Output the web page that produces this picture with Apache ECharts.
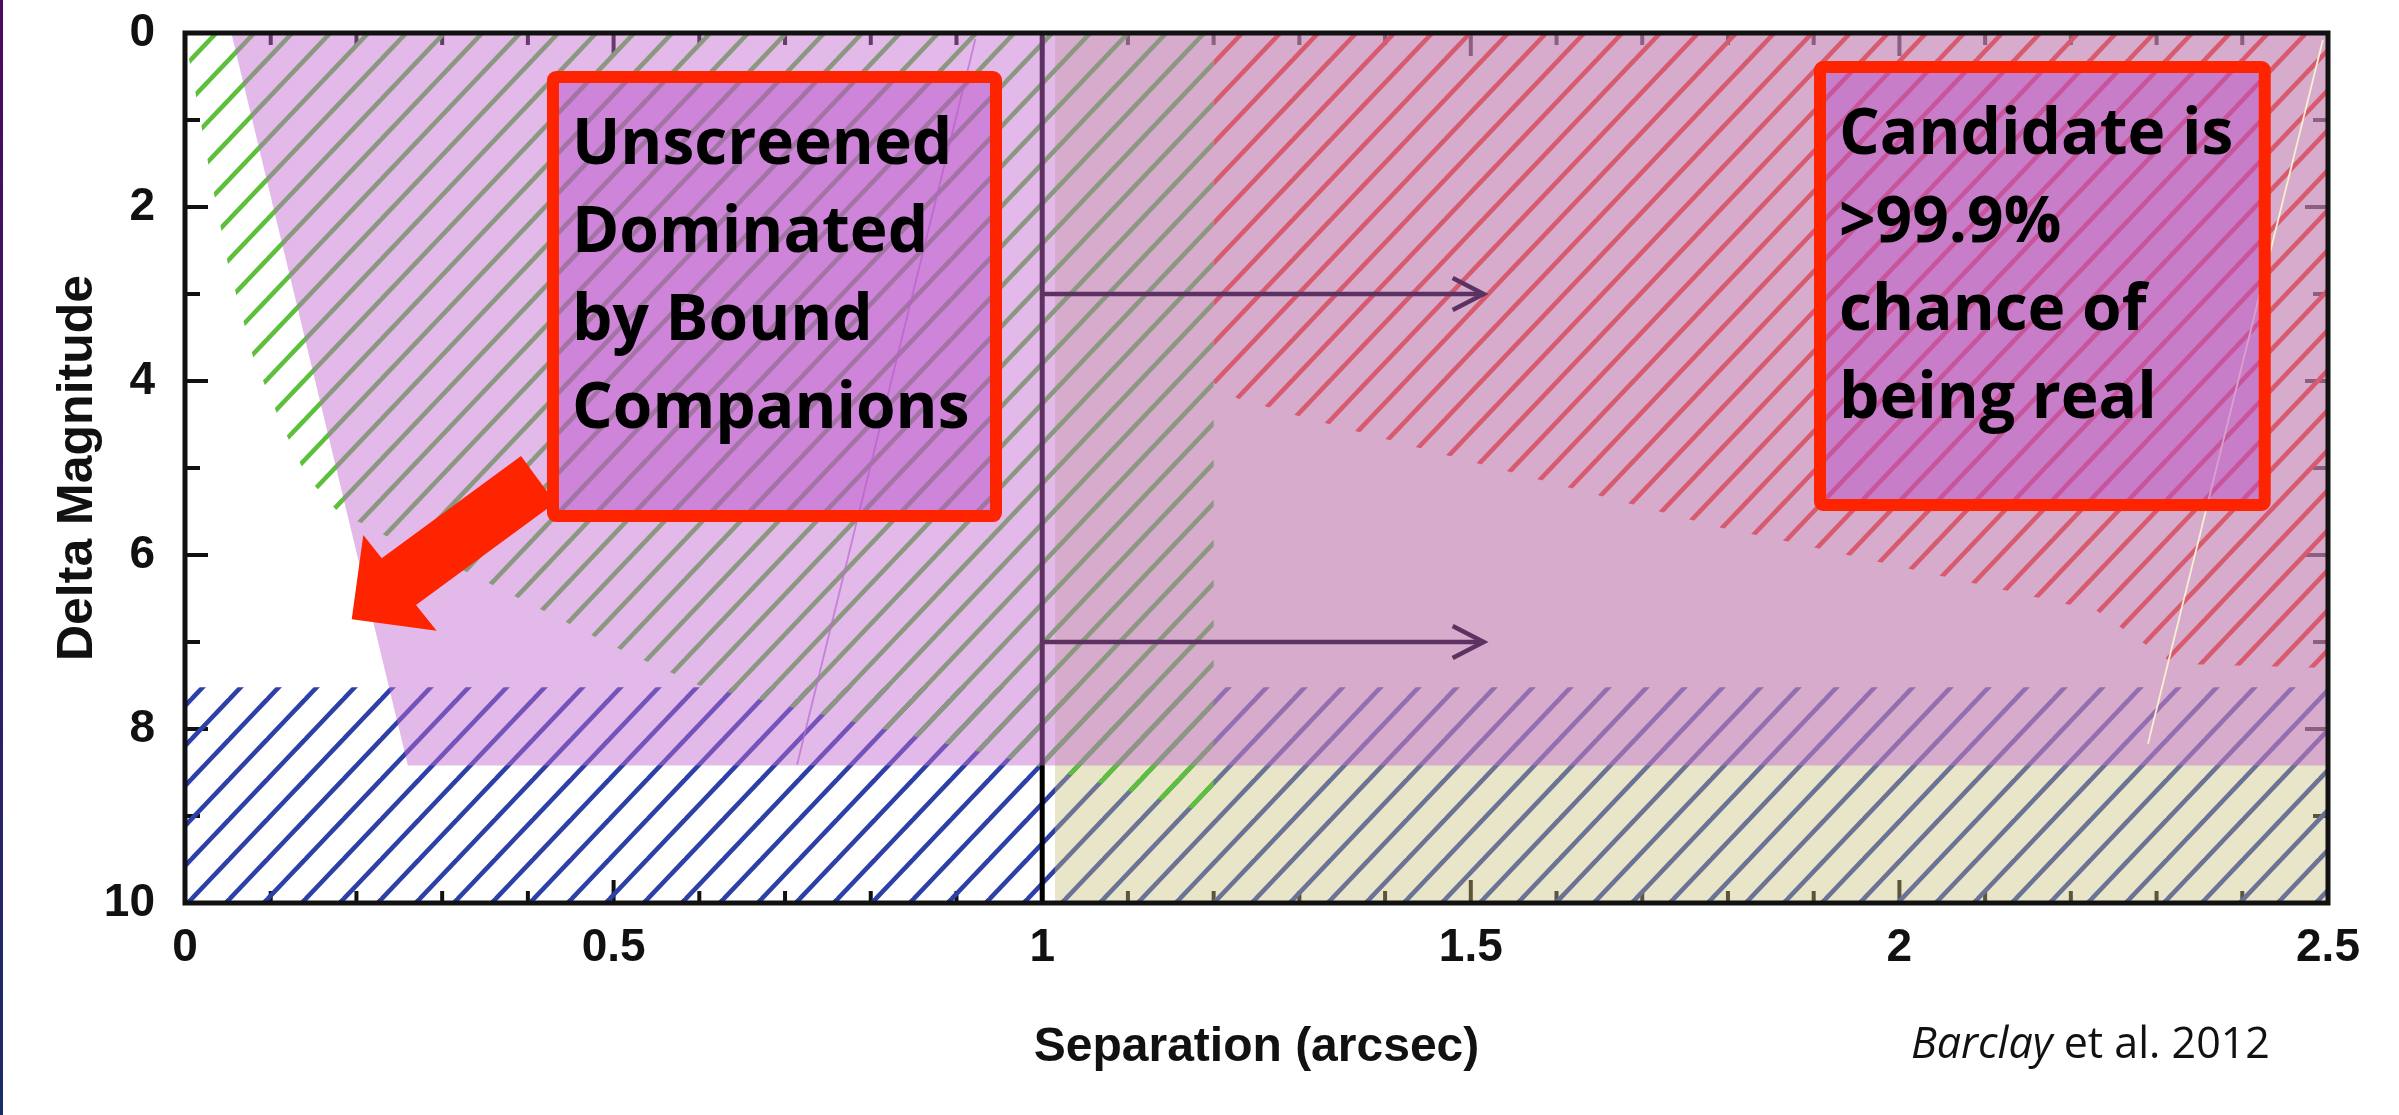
<!DOCTYPE html>
<html>
<head>
<meta charset="utf-8">
<script src="https://cdn.jsdelivr.net/npm/echarts@6.0.0/dist/echarts.min.js"></script>
<style>
  html, body { margin: 0; padding: 0; background: #ffffff; }
  #chart { width: 2399px; height: 1115px; }
</style>
</head>
<body>
<div id="chart"></div>
<script>
// Separation (arcsec) vs. delta magnitude: parameter space ruled out by each test.

// Region excluded by high-resolution imaging (green hatch)
const imagingRegion = [
  [0, 0], [1.2, 0], [1.2, 9.0], [1.17, 8.9], [1.03, 8.52], [0.96, 8.34], [0.6, 7.5],
  [0.5, 7.05], [0.45, 6.8], [0.39, 6.5], [0.33, 6.2], [0.238, 5.8], [0.205, 5.63],
  [0.178, 5.5], [0.142, 5.1], [0.115, 4.55], [0.08, 3.74], [0.05, 2.65], [0.028, 1.55],
  [0.007, 0.4], [0, 0.1]
];
// Region excluded by centroid analysis (red hatch)
const centroidRegion = [
  [1.2, 0], [2.5, 0], [2.5, 7.3], [2.32, 7.25], [2.23, 6.64], [1.867, 5.84], [1.793, 5.69],
  [1.298, 4.4], [1.263, 4.3], [1.228, 4.2], [1.2, 4.02]
];
// Too faint to produce the transit (blue hatch)
const faintRegion = [[0, 7.52], [2.5, 7.52], [2.5, 10], [0, 10]];
// Wide separations (yellow)
const wideRegion = [[1.015, 0], [2.5, 0], [2.5, 10], [1.015, 10]];
// Unscreened space (pink)
const unscreenedRegion = [[0.054, 0], [2.5, 0], [2.5, 8.42], [0.26, 8.42]];

const separationLimit = [[1, 0], [1, 10]];
const arrowRows = [3, 7];
const arrowEnd = 1.515;

const seamLines = [
  [0.922, 0.07, 0.714, 8.41],
  [2.494, 0.08, 2.29, 8.17]
];
const seamColors = ['rgba(186,110,214,0.75)', '#f6f0cf'];

const noteBoxes = [
  [0.4223, 0.4368, 0.9531, 5.621],
  [1.9004, 0.322, 2.4332, 5.494]
];
const noteTexts = [
  'Unscreened\nDominated\nby Bound\nCompanions',
  'Candidate is\n>99.9%\nchance of\nbeing real'
];
const pointerArrow = [
  [0.1945, 6.739], [0.208, 5.770], [0.2295, 6.038], [0.392, 4.862],
  [0.432, 5.399], [0.2695, 6.575], [0.2936, 6.870]
];

const xTicks = { min: 0, max: 2.5, interval: 0.5 };
const yTicks = { min: 0, max: 10, interval: 2 };
const xMajorTicks = [0, 0.5, 1, 1.5, 2, 2.5];
const xMinorTicks = [0.1, 0.2, 0.3, 0.4, 0.6, 0.7, 0.8, 0.9, 1.1, 1.2, 1.3, 1.4,
                     1.6, 1.7, 1.8, 1.9, 2.1, 2.2, 2.3, 2.4];
const yMajorTicks = [0, 2, 4, 6, 8, 10];
const yMinorTicks = [1, 3, 5, 7, 9];

// Diagonal hatch tile; anchored at the canvas origin so every region shares one phase
function hatch(color) {
  const w = 38, h = 40, k = 0.95, c = document.createElement('canvas');
  c.width = w; c.height = h;
  const g = c.getContext('2d');
  g.strokeStyle = color;
  g.lineWidth = 4.5;
  [19.6 - 38, 19.6, 19.6 + 38].forEach(function (x0) {
    g.beginPath();
    g.moveTo(x0 + k * 6, -6);
    g.lineTo(x0 - k * (h + 6), h + 6);
    g.stroke();
  });
  return { image: c, repeat: 'repeat' };
}

function regionSeries(points, fill, clip) {
  return {
    type: 'custom', coordinateSystem: 'cartesian2d', data: points, clip: clip !== false,
    silent: true, animation: false,
    renderItem: function (params, api) {
      if (params.dataIndex !== 0) return null;
      return {
        type: 'polygon',
        shape: { points: points.map(function (p) { return api.coord(p); }) },
        style: { fill: fill }
      };
    }
  };
}

// Inward ticks on all four sides of the frame
const tickData = []
  .concat(xMajorTicks.map(function (v) { return [v, 0, 23]; }))
  .concat(xMinorTicks.map(function (v) { return [v, 0, 12]; }))
  .concat(yMajorTicks.map(function (v) { return [0, v, 23, 1]; }))
  .concat(yMinorTicks.map(function (v) { return [0, v, 15, 1]; }));

const tickSeries = {
  type: 'custom', coordinateSystem: 'cartesian2d', silent: true, data: tickData,
  renderItem: function (params, api) {
    const item = tickData[params.dataIndex];
    const len = item[2];
    const st = { stroke: '#111', lineWidth: 4 };
    if (item[3]) {
      const l = api.coord([xTicks.min, item[1]]);
      const r = api.coord([xTicks.max, item[1]]);
      return { type: 'group', children: [
        { type: 'line', shape: { x1: l[0], y1: l[1], x2: l[0] + len, y2: l[1] }, style: st },
        { type: 'line', shape: { x1: r[0], y1: r[1], x2: r[0] - len, y2: r[1] }, style: st }
      ] };
    }
    const t = api.coord([item[0], yTicks.min]);
    const b = api.coord([item[0], yTicks.max]);
    return { type: 'group', children: [
      { type: 'line', shape: { x1: b[0], y1: b[1], x2: b[0], y2: b[1] - len }, style: st },
      { type: 'line', shape: { x1: t[0], y1: t[1], x2: t[0], y2: t[1] + len }, style: st }
    ] };
  }
};

const labelFont = { fontFamily: 'Liberation Sans', fontWeight: 'bold', fontSize: 46, color: '#111' };
const xNameFont = { fontFamily: 'Liberation Sans', fontWeight: 'bold', fontSize: 48, color: '#111' };
const yNameFont = { fontFamily: 'Liberation Sans', fontWeight: 'bold', fontSize: 50, color: '#111' };

const chart = echarts.init(document.getElementById('chart'), null, { renderer: 'canvas' });

chart.setOption({
  animation: false,
  backgroundColor: '#ffffff',
  grid: { left: 185, right: 71, top: 33, bottom: 212, containLabel: false, outerBoundsMode: 'none' },
  xAxis: {
    type: 'value', min: xTicks.min, max: xTicks.max, interval: xTicks.interval,
    axisLine: { show: false, onZero: false }, axisTick: { show: false }, minorTick: { show: false },
    splitLine: { show: false },
    axisLabel: Object.assign({ margin: 22 }, labelFont),
    name: 'Separation (arcsec)', nameLocation: 'middle', nameGap: 121, nameMoveOverlap: false,
    nameTextStyle: xNameFont
  },
  yAxis: {
    type: 'value', inverse: true, min: yTicks.min, max: yTicks.max, interval: yTicks.interval,
    axisLine: { show: false, onZero: false }, axisTick: { show: false }, minorTick: { show: false },
    splitLine: { show: false },
    axisLabel: Object.assign({ margin: 30 }, labelFont),
    name: 'Delta Magnitude', nameLocation: 'middle', nameGap: 82, nameRotate: 90, nameMoveOverlap: false,
    nameTextStyle: yNameFont
  },
  graphic: [
    {
      type: 'rect', left: 0, top: 0, silent: true,
      shape: { width: 3, height: 1115 },
      style: {
        fill: new echarts.graphic.LinearGradient(0, 0, 0, 1, [
          { offset: 0, color: '#4c0b5e' }, { offset: 1, color: '#1b2c6e' }
        ])
      }
    },
    {
      type: 'text', x: 1911, y: 1046, silent: true,
      style: {
        text: '{i|Barclay} et al. 2012',
        fontFamily: 'Open Sans', fontSize: 43, fill: '#111',
        verticalAlign: 'middle',
        rich: { i: { fontStyle: 'italic', fontFamily: 'Open Sans', fontSize: 43, fill: '#111' } }
      }
    }
  ],
  series: [
    tickSeries,
    regionSeries(faintRegion, hatch('#2c40a8')),
    regionSeries(wideRegion, 'rgba(200,190,120,0.4)'),
    regionSeries(imagingRegion, hatch('#5cc03c')),
    regionSeries(centroidRegion, hatch('#ea4c1c')),
    {
      // Separation boundary at 1 arcsec
      type: 'custom', coordinateSystem: 'cartesian2d', data: separationLimit, silent: true,
      renderItem: function (params, api) {
        if (params.dataIndex !== 0) return null;
        return {
          type: 'polyline',
          shape: { points: separationLimit.map(function (p) { return api.coord(p); }) },
          style: { stroke: '#000', lineWidth: 5, fill: null }
        };
      }
    },
    {
      // Arrows pointing to wider separations
      type: 'custom', coordinateSystem: 'cartesian2d', silent: true,
      data: arrowRows.map(function (y) { return [1, y]; }),
      renderItem: function (params, api) {
        const s = api.coord([api.value(0), api.value(1)]);
        const e = api.coord([arrowEnd, api.value(1)]);
        const st = { stroke: '#000', lineWidth: 4.5, fill: null, lineJoin: 'miter' };
        return {
          type: 'group',
          children: [
            { type: 'line', shape: { x1: s[0], y1: s[1], x2: e[0], y2: e[1] }, style: st },
            { type: 'polyline', shape: { points: [[e[0] - 31, e[1] - 16], e, [e[0] - 31, e[1] + 16]] }, style: st }
          ]
        };
      }
    },
    regionSeries(unscreenedRegion, 'rgba(194,106,206,0.47)'),
    {
      type: 'custom', coordinateSystem: 'cartesian2d', data: seamLines, silent: true, clip: true,
      renderItem: function (params, api) {
        const a = api.coord([api.value(0), api.value(1)]);
        const b = api.coord([api.value(2), api.value(3)]);
        return {
          type: 'line', shape: { x1: a[0], y1: a[1], x2: b[0], y2: b[1] },
          style: { stroke: seamColors[params.dataIndex], lineWidth: 1.8 }
        };
      }
    },
    regionSeries(pointerArrow, '#ff2400', false),
    {
      type: 'custom', coordinateSystem: 'cartesian2d', data: noteBoxes, silent: true,
      renderItem: function (params, api) {
        const a = api.coord([api.value(0), api.value(1)]);
        const b = api.coord([api.value(2), api.value(3)]);
        return {
          type: 'group',
          children: [
            {
              type: 'rect',
              shape: { x: a[0] + 6, y: a[1] + 6, width: b[0] - a[0] - 12, height: b[1] - a[1] - 12, r: 3 },
              style: { fill: 'rgba(185,80,200,0.5)', stroke: '#ff2400', lineWidth: 12 }
            },
            {
              type: 'text', x: a[0] + 25, y: a[1] + 31,
              style: {
                text: noteTexts[params.dataIndex],
                fontFamily: 'Open Sans', fontWeight: 'bold', fontSize: 64, lineHeight: 88,
                fill: '#000', verticalAlign: 'top', align: 'left'
              }
            }
          ]
        };
      }
    },
    {
      // Plot frame
      type: 'custom', coordinateSystem: 'cartesian2d', data: [[xTicks.min, yTicks.min, xTicks.max, yTicks.max]],
      silent: true, z: 10,
      renderItem: function (params, api) {
        const a = api.coord([api.value(0), api.value(1)]);
        const b = api.coord([api.value(2), api.value(3)]);
        return {
          type: 'rect',
          shape: { x: a[0], y: a[1], width: b[0] - a[0], height: b[1] - a[1] },
          style: { fill: null, stroke: '#111', lineWidth: 5 }
        };
      }
    }
  ]
});
</script>
</body>
</html>
